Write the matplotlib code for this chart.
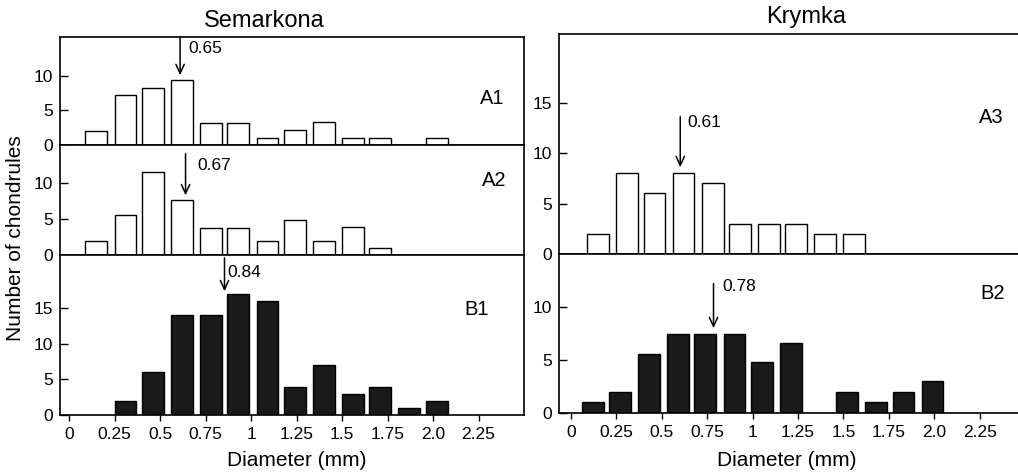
import matplotlib.pyplot as plt
import numpy as np

plt.rcParams['font.family'] = ['Liberation Sans', 'DejaVu Sans']

# bin centres (mm)
bins = [0.15, 0.31, 0.46, 0.62, 0.78, 0.93, 1.09, 1.24, 1.40, 1.56, 1.71, 1.87, 2.02]
bins_b2 = [0.12, 0.27, 0.43, 0.59, 0.74, 0.90, 1.05, 1.21, 1.36, 1.52, 1.68, 1.83, 1.99]

# number of chondrules per bin
a1 = [2, 7.3, 8.3, 9.4, 3.2, 3.2, 1, 2.2, 3.3, 1, 1, 0, 1]
a2 = [1.9, 5.6, 11.6, 7.7, 3.8, 3.8, 1.9, 4.8, 1.9, 3.9, 1.0, 0, 0]
b1 = [0, 2, 6, 14, 14, 17, 16, 4, 7, 3, 4, 1, 2]
a3 = [2, 8, 6, 8, 7, 3, 3, 3, 2, 2, 0, 0, 0]
b2 = [1, 2, 5.6, 7.5, 7.5, 7.5, 4.8, 6.6, 0, 2, 1, 2, 3]

# mean diameters marked with arrows
medians = ['0.65', '0.67', '0.84', '0.61', '0.78']
arrow_x = [0.61, 0.64, 0.854, 0.602, 0.785]

xticks = [0, 0.25, 0.5, 0.75, 1, 1.25, 1.5, 1.75, 2.0, 2.25]
xtick_labels = ['0', '0.25', '0.5', '0.75', '1', '1.25', '1.5', '1.75', '2.0', '2.25']

W, H = 1018, 475


def box(left, top, right, bottom):
    return [left / W, 1 - bottom / H, (right - left) / W, (bottom - top) / H]


def panel(ax, x, h, color, xlim, ylim, yticks, name, name_pos,
          arr, median, arr_y, text_pos, bottom_labels):
    x = np.array(x)
    h = np.array(h, dtype=float)
    keep = h > 0
    ax.bar(x[keep], h[keep], width=0.12, color=color, edgecolor='black',
           linewidth=1.0, zorder=2)
    ax.set_xlim(xlim)
    ax.set_ylim(ylim)
    ax.set_yticks(yticks)
    ax.set_xticks(xticks)
    if bottom_labels:
        ax.set_xticklabels(xtick_labels)
    else:
        ax.set_xticklabels([])
    ax.tick_params(axis='y', direction='in', length=6, width=1, labelsize=12.5, pad=5)
    ax.tick_params(axis='x', direction='out', length=4.5, width=1, labelsize=12.5, pad=4)
    for s in ax.spines.values():
        s.set_linewidth(1.2)

    ax.annotate('', xy=(arr, arr_y[1]), xytext=(arr, arr_y[0]),
                arrowprops=dict(arrowstyle='->,head_length=0.65,head_width=0.3',
                                mutation_scale=10, lw=1.1, color='black',
                                shrinkA=0, shrinkB=0))
    ax.text(arr + text_pos[0], text_pos[1], median, fontsize=12.5,
            ha='left', va='center')
    ax.text(name_pos[0], name_pos[1], name, transform=ax.transAxes,
            fontsize=14.5, ha='center', va='center')


fig = plt.figure(figsize=(W / 100, H / 100), dpi=100)

ax_a1 = fig.add_axes(box(60, 36.5, 524, 145))
ax_a2 = fig.add_axes(box(60, 145, 524, 255))
ax_b1 = fig.add_axes(box(60, 255, 524, 415))
ax_a3 = fig.add_axes(box(559, 34, 1018, 254))
ax_b2 = fig.add_axes(box(559, 254, 1018, 413))

left_lim = (-0.05, 2.5)
right_lim = (-0.065, 2.46)

panel(ax_a1, bins, a1, 'white', left_lim, (0, 15.7), [0, 5, 10], 'A1', (0.931, 0.43),
      arrow_x[0], medians[0], (15.7, 10.1), (0.048, 13.9), False)
panel(ax_a2, bins, a2, 'white', left_lim, (0, 15.3), [0, 5, 10], 'A2', (0.936, 0.68),
      arrow_x[1], medians[1], (14.1, 8.3), (0.064, 12.5), False)
panel(ax_b1, bins, b1, '#1a1a1a', left_lim, (0, 22.5), [0, 5, 10, 15], 'B1', (0.898, 0.66),
      arrow_x[2], medians[2], (22.1, 17.4), (0.015, 20.0), True)
panel(ax_a3, bins, a3, 'white', right_lim, (0, 21.8), [0, 5, 10, 15], 'A3', (0.941, 0.62),
      arrow_x[3], medians[3], (13.6, 8.6), (0.037, 13.0), False)
panel(ax_b2, bins_b2, b2, '#1a1a1a', right_lim, (0, 15.0), [0, 5, 10], 'B2', (0.945, 0.75),
      arrow_x[4], medians[4], (12.2, 8.0), (0.047, 11.9), True)

for ax in (ax_a3, ax_b2):
    ax.spines['right'].set_visible(False)

fig.text(264 / W, 1 - 26.7 / H, 'Semarkona', fontsize=17, ha='center', va='baseline')
fig.text(806 / W, 1 - 22.7 / H, 'Krymka', fontsize=17, ha='center', va='baseline')
fig.text(297 / W, 1 - 466 / H, 'Diameter (mm)', fontsize=15, ha='center', va='baseline')
fig.text(787 / W, 1 - 466 / H, 'Diameter (mm)', fontsize=15, ha='center', va='baseline')
fig.text(16 / W, 1 - 238 / H, 'Number of chondrules', fontsize=15, rotation=90,
         ha='center', va='center')

fig.savefig('out.png', dpi=100)
